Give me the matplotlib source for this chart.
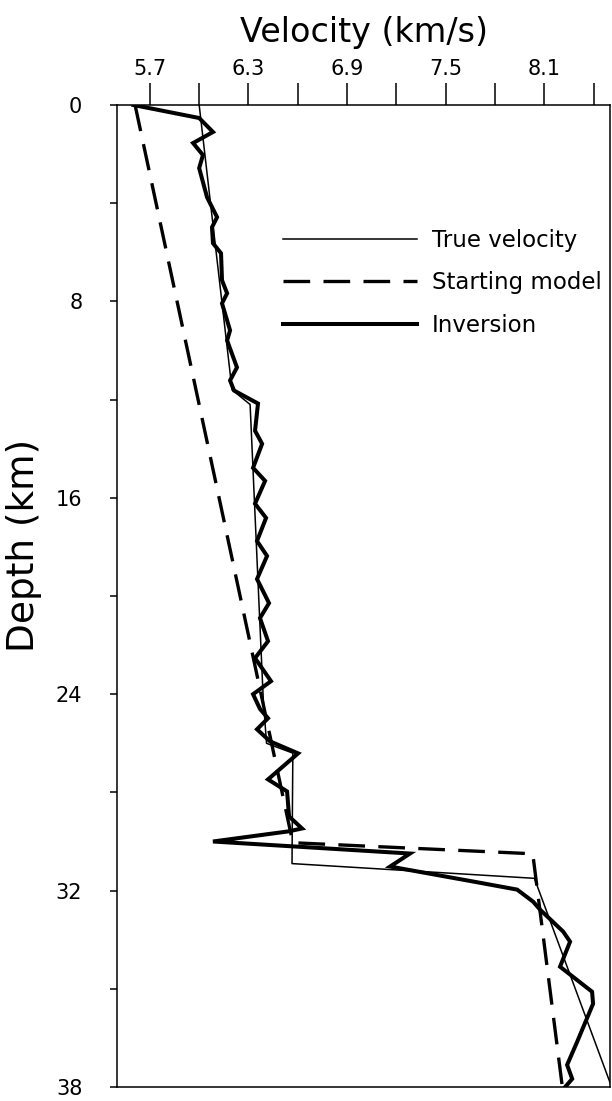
import matplotlib
matplotlib.use("Agg")
import matplotlib.pyplot as plt
from matplotlib.ticker import FixedLocator

# ---- data ----
true_depth = [0.0, 11.6, 12.2, 24.2, 26.0, 26.4, 30.9, 31.5, 40.0]
true_vel = [6.00, 6.20, 6.31, 6.39, 6.41, 6.57, 6.565, 8.04, 8.51]

start_depth = [0.0, 30.05, 30.5, 40.0]
start_vel = [5.61, 6.57, 8.03, 8.21]

inv_depth = [0.0, 0.53, 1.10, 1.55, 2.04, 2.57, 3.76, 4.57, 4.98, 5.63, 6.04,
             7.14, 7.67, 8.08, 9.18, 9.59, 10.69, 11.22, 11.63, 12.16, 13.27,
             13.80, 14.78, 15.31, 16.24, 16.82, 17.76, 18.37, 19.31, 20.29,
             20.90, 21.84, 22.53, 23.47, 24.0, 24.6, 24.98, 25.43, 25.92,
             26.41, 27.47, 27.96, 28.98, 29.47, 29.59, 30.0, 30.49, 31.02,
             31.63, 31.96, 32.45, 32.78, 33.67, 34.08, 35.10, 36.12, 36.61,
             38.16, 39.1, 39.67, 40.0]
inv_vel = [5.60, 6.00, 6.084, 5.963, 6.023, 6.00, 6.048, 6.109, 6.078, 6.084,
           6.133, 6.139, 6.170, 6.139, 6.188, 6.170, 6.230, 6.188, 6.212,
           6.358, 6.340, 6.383, 6.328, 6.401, 6.340, 6.407, 6.352, 6.413,
           6.352, 6.425, 6.370, 6.419, 6.340, 6.437, 6.328, 6.37, 6.419,
           6.352, 6.431, 6.602, 6.419, 6.535, 6.547, 6.626, 6.541, 6.084,
           7.283, 7.162, 7.667, 7.935, 8.032, 8.075, 8.215, 8.257, 8.196,
           8.391, 8.397, 8.30, 8.239, 8.27, 8.227]

x_ticks = [5.7, 6.0, 6.3, 6.6, 6.9, 7.2, 7.5, 7.8, 8.1, 8.4]
x_labels = ["5.7", "", "6.3", "", "6.9", "", "7.5", "", "8.1", ""]
y_ticks = [0, 8, 16, 24, 32, 40]
y_labels = ["0", "8", "16", "24", "32", "38"]
y_minor = [4, 12, 20, 28, 36]

plt.rcParams["font.family"] = ["DejaVu Sans"]

fig = plt.figure(figsize=(6.12, 11.01), dpi=100)
ax = fig.add_axes([117 / 612, 1 - 1087 / 1101, 493 / 612, 982 / 1101])

ax.plot(true_vel, true_depth, color="black", lw=1.1, label="True velocity")
ax.plot(start_vel, start_depth, color="black", lw=2.4, dashes=(8, 4),
        label="Starting model")
ax.plot(inv_vel, inv_depth, color="black", lw=2.9, label="Inversion",
        solid_joinstyle="miter")

ax.set_xlim(5.5, 8.5)
ax.set_ylim(40, 0)

ax.xaxis.tick_top()
ax.xaxis.set_label_position("top")
ax.xaxis.set_major_locator(FixedLocator(x_ticks))
ax.set_xticklabels(x_labels)
ax.yaxis.set_major_locator(FixedLocator(y_ticks))
ax.set_yticklabels(y_labels)
ax.yaxis.set_minor_locator(FixedLocator(y_minor))

ax.tick_params(axis="x", which="major", direction="out", length=16,
               width=1.1, pad=3, labelsize=15)
ax.tick_params(axis="y", which="both", direction="out", length=5,
               width=1.1, pad=20, labelsize=15)

for s in ax.spines.values():
    s.set_linewidth(1.1)

ax.set_xlabel("Velocity (km/s)", fontsize=24, labelpad=12)
fig.text(24 / 612, 1 - 545 / 1101, "Depth (km)", rotation=90,
         ha="center", va="center", fontsize=27)

leg = ax.legend(loc="upper left", bbox_to_anchor=(0.337, 0.874),
                frameon=False, fontsize=16.5, handlelength=5.85,
                handletextpad=0.65, labelspacing=0.85, borderpad=0,
                borderaxespad=0)

fig.savefig("out.png", dpi=100)
